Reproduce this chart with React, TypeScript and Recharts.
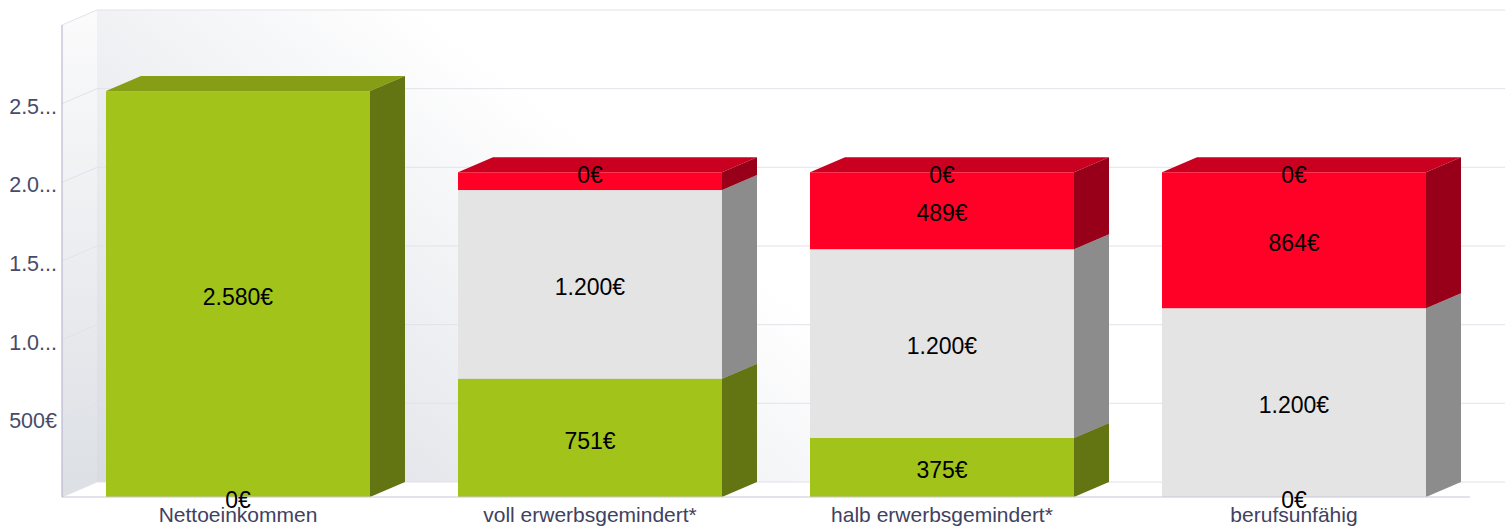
import React from 'react';
import { BarChart, Bar, XAxis, YAxis, ReferenceArea, ReferenceLine, LabelList } from 'recharts';

// ---- data ----
const categories = ['Nettoeinkommen', 'voll erwerbsgemindert*', 'halb erwerbsgemindert*', 'berufsunfähig'];
const sockel: (number | null)[] = [0, null, null, null];
const einkommen: (number | null)[] = [2580, 751, 375, 0];
const rente: (number | null)[] = [null, 1200, 1200, 1200];
const luecke: (number | null)[] = [null, 113, 489, 864];
const rest: (number | null)[] = [null, 0, 0, 0];
const yTicks = [500, 1000, 1500, 2000, 2500];
const gridValues = [0, 500, 1000, 1500, 2000, 2500, 3000];
const yMax = 3000;

const data = categories.map((name, i) => ({
  name,
  sockel: sockel[i],
  einkommen: einkommen[i],
  rente: rente[i],
  luecke: luecke[i],
  rest: rest[i],
}));

// ---- style ----
const DX = 35;
const DY = 15;
const FONT = '"Liberation Sans", Arial, sans-serif';

const faces = {
  green: { front: '#a1c31a', top: '#869e15', side: '#627512' },
  grey: { front: '#e4e4e4', top: '#c4c4c4', side: '#8c8c8c' },
  red: { front: '#ff0026', top: '#c9001f', side: '#98001a' },
};

const fmt = (v: number) => {
  const s = Math.round(v).toString();
  return s.replace(/\B(?=(\d{3})+(?!\d))/g, '.') + '€';
};

const tickFmt = (v: number) => {
  const s = fmt(v);
  return s.length > 4 ? s.slice(0, 3) + '...' : s;
};

const make3D = (c: { front: string; top: string; side: string }) => (props: any) => {
  let { x, y, width, height } = props;
  x = Number(x); y = Number(y); width = Number(width); height = Number(height);
  if (!(Math.abs(height) > 0) || !(width > 0)) return <g />;
  if (height < 0) { y = y + height; height = -height; }
  const top = `${x},${y} ${x + DX},${y - DY} ${x + width + DX},${y - DY} ${x + width},${y}`;
  const side = `${x + width},${y} ${x + width + DX},${y - DY} ${x + width + DX},${y + height - DY} ${x + width},${y + height}`;
  return (
    <g>
      <polygon points={top} fill={c.top} />
      <polygon points={side} fill={c.side} />
      <rect x={x} y={y} width={width} height={height} fill={c.front} />
    </g>
  );
};

const renderLabel = (props: any) => {
  const { value } = props;
  if (value === null || value === undefined || Array.isArray(value)) return null;
  const vb = props.viewBox && props.viewBox.width !== undefined ? props.viewBox : props;
  const x = Number(vb.x), y = Number(vb.y), w = Number(vb.width);
  let h = Number(vb.height) || 0;
  let yy = y;
  if (h < 0) { yy = y + h; h = -h; }
  if (h > 0 && h < 20) return null;
  const cx = x + w / 2;
  const cy = yy + h / 2;
  return (
    <text x={cx} y={cy + 2.5 + 8.2} textAnchor="middle" fontSize={23} fontFamily={FONT} fill="#000">
      {fmt(Number(value))}
    </text>
  );
};

const Walls = (props: any) => {
  const x = Number(props.x), y = Number(props.y), width = Number(props.width), height = Number(props.height);
  const left = x, top = y, bottom = y + height;
  return (
    <g>
      <defs>
        <linearGradient
          id="backWallGrad"
          gradientUnits="userSpaceOnUse"
          x1={left + DX}
          y1={bottom - DY}
          x2={left + DX + width * 0.25}
          y2={bottom - DY - height * 0.95}
        >
          <stop offset="0" stopColor="#d8dbe1" />
          <stop offset="0.6" stopColor="#eff0f3" />
          <stop offset="1" stopColor="#ffffff" />
        </linearGradient>
        <linearGradient id="sideWallGrad" x1="0" y1="0" x2="0" y2="1">
          <stop offset="0" stopColor="#fbfbfc" />
          <stop offset="1" stopColor="#dcdfe4" />
        </linearGradient>
      </defs>
      <rect x={left + DX} y={top - DY} width={width} height={height} fill="url(#backWallGrad)" />
      <polygon
        points={`${left},${top} ${left + DX},${top - DY} ${left + DX},${bottom - DY} ${left},${bottom}`}
        fill="url(#sideWallGrad)"
      />
    </g>
  );
};

const gridShape = (p: any) => {
  const x1 = Number(p.x1), y1 = Number(p.y1), x2 = Number(p.x2);
  return (
    <path
      d={`M${x1},${y1}L${x1 + DX},${y1 - DY}L${x2 + DX},${y1 - DY}`}
      fill="none"
      stroke="#e2e2e9"
      strokeWidth={1}
    />
  );
};

const XTick = (props: any) => {
  const { x, y, payload } = props;
  return (
    <text x={x} y={Number(y) + 25} textAnchor="middle" fontSize={21} fontFamily={FONT} fill="#414160">
      {payload.value}
    </text>
  );
};

const YTick = (props: any) => {
  const { x, y, payload } = props;
  return (
    <text x={x} y={Number(y) + 10} textAnchor="end" fontSize={21.5} fontFamily={FONT} fill="#4a4a68">
      {tickFmt(payload.value)}
    </text>
  );
};

export default function App() {
  return (
    <div style={{ width: 1511, height: 529, background: '#fff' }}>
      <style>{`body{margin:0;}`}</style>
      <BarChart
        width={1511}
        height={529}
        data={data}
        margin={{ top: 25, right: 41, bottom: 0, left: 0 }}
        barCategoryGap="12.5%"
      >
        <XAxis
          dataKey="name"
          height={32}
          tickLine={false}
          tickSize={0}
          tickMargin={0}
          interval={0}
          axisLine={{ stroke: '#c6c6d6' }}
          tick={<XTick />}
        />
        <YAxis
          width={62}
          domain={[0, yMax]}
          ticks={yTicks}
          interval={0}
          tickLine={false}
          tickSize={0}
          tickMargin={5}
          axisLine={{ stroke: '#adadc8' }}
          tick={<YTick />}
        />
        <ReferenceArea y1={0} y2={yMax} ifOverflow="visible" shape={Walls} zIndex={-90} />
        {gridValues.map((v) => (
          <ReferenceLine key={v} y={v} ifOverflow="visible" shape={gridShape} zIndex={-80} />
        ))}
        <Bar dataKey="sockel" stackId="a" isAnimationActive={false} shape={make3D(faces.green)}>
          <LabelList dataKey="sockel" content={renderLabel} />
        </Bar>
        <Bar dataKey="einkommen" stackId="a" isAnimationActive={false} shape={make3D(faces.green)}>
          <LabelList dataKey="einkommen" content={renderLabel} />
        </Bar>
        <Bar dataKey="rente" stackId="a" isAnimationActive={false} shape={make3D(faces.grey)}>
          <LabelList dataKey="rente" content={renderLabel} />
        </Bar>
        <Bar dataKey="luecke" stackId="a" isAnimationActive={false} shape={make3D(faces.red)}>
          <LabelList dataKey="luecke" content={renderLabel} />
        </Bar>
        <Bar dataKey="rest" stackId="a" isAnimationActive={false} shape={make3D(faces.red)}>
          <LabelList dataKey="rest" content={renderLabel} />
        </Bar>
      </BarChart>
    </div>
  );
}
